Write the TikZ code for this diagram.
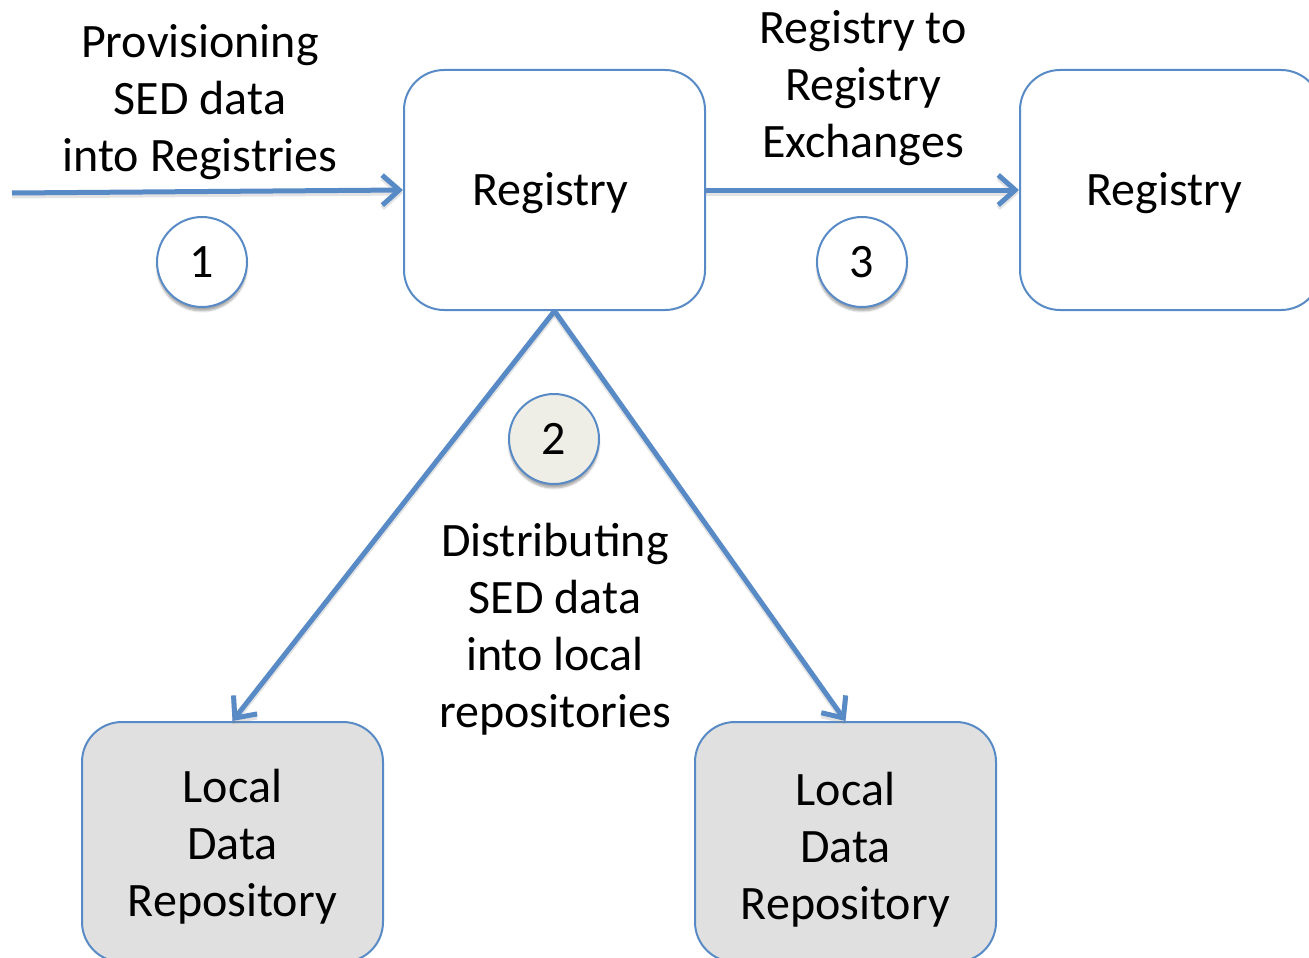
\documentclass[tikz,border=0pt]{standalone}
\usepackage{fontspec}
\setmainfont{Carlito}
\usetikzlibrary{arrows.meta,shadows.blur}
\definecolor{edge}{RGB}{88,138,198}
\definecolor{repofill}{RGB}{224,224,224}
\definecolor{stepfill}{RGB}{238,238,230}
\tikzset{
  txt/.style={font=\fontsize{48}{57}\selectfont, align=center, inner sep=0pt},
  regbox/.style={draw=edge, line width=2pt, rounded corners=40pt, fill=white,
    minimum width=301pt, minimum height=240pt, inner sep=0pt},
  repobox/.style={regbox, fill=repofill},
  stepnum/.style={circle, draw=edge, line width=2pt, fill=white, minimum size=90pt,
    font=\fontsize{48}{56}\selectfont, inner sep=0pt,
    blur shadow={shadow blur steps=6, shadow xshift=0pt, shadow yshift=-4pt, shadow opacity=35}},
  tip/.style={-{Straight Barb[length=17pt,width=30pt,line width=5pt]}},
  flow/.style={draw=edge, line width=5pt, tip,
    preaction={draw=black!50, opacity=0.22, line width=5pt, tip,
      transform canvas={yshift=-3pt}}}
}
\begin{document}
\begin{tikzpicture}[x=1pt,y=-1pt]
\useasboundingbox (0,0) rectangle (1309,958);

% main boxes, captions set slightly below the geometric centre
\node[regbox, label={[txt,xshift=-4pt,yshift=-3pt]center:Registry}] (reg) at (554.5,190) {};
\node[regbox, label={[txt,xshift=-6pt,yshift=-3pt]center:Registry}] (peer) at (1170.5,190) {};
\node[repobox, label={[txt,yshift=-5pt]center:Local\\Data\\Repository}] (repoA) at (232.5,842) {};
\node[repobox, label={[txt,yshift=-8pt]center:Local\\Data\\Repository}] (repoB) at (845.5,842) {};

% incoming provisioning line
\coordinate (src) at (12,193);
\draw[flow] (src) -- (reg.west);
% registry to registry
\draw[flow] (reg.east) -- (peer.west);
% distribution to local repositories
\draw[flow] (reg.south) -- (repoA.north);
\draw[flow] (reg.south) -- (repoB.north);

% step markers
\node[stepnum] (s1) at (202,262) {1};
\node[stepnum, fill=stepfill] (s2) at (554,439) {2};
\node[stepnum] (s3) at (862,262) {3};

% labels
\node[txt] (l1) at (200,102) {Provisioning\\SED data\\into Registries};
\node[txt] (l3) at (863,88) {Registry to\\Registry\\Exchanges};
\node[txt] (l2) at (555,629) {Distributing\\SED data\\into local\\repositories};
\end{tikzpicture}
\end{document}
